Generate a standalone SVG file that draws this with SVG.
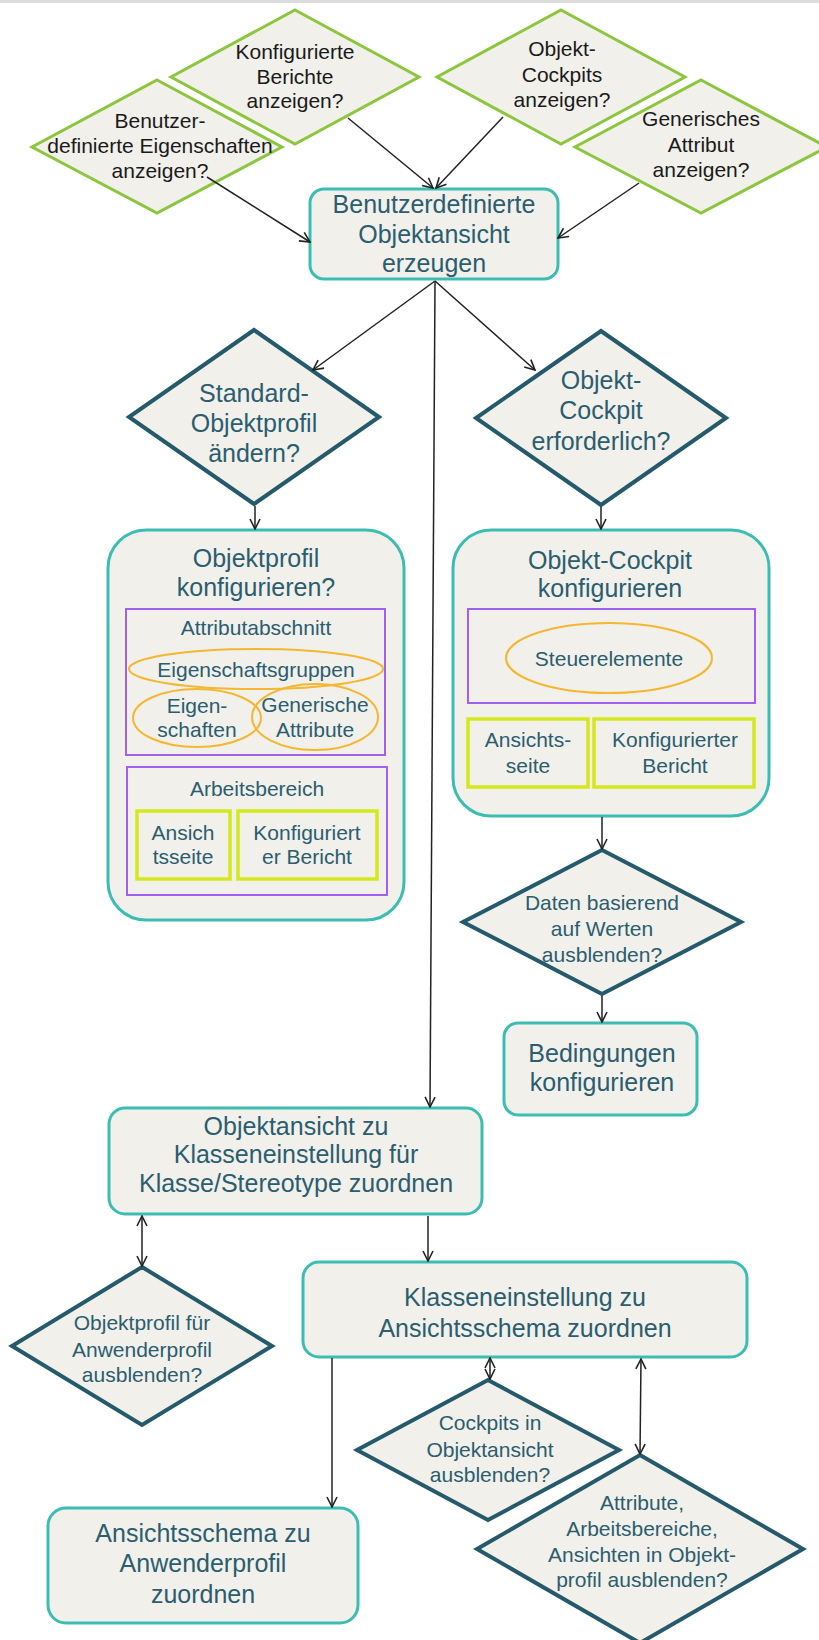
<svg xmlns="http://www.w3.org/2000/svg" width="819" height="1640" viewBox="0 0 819 1640">
<defs>
<marker id="ah" viewBox="0 0 12 12" refX="11" refY="6" markerWidth="12" markerHeight="12" markerUnits="userSpaceOnUse" orient="auto-start-reverse">
<path d="M1,1 L11,6 L1,11" fill="none" stroke="#222" stroke-width="1.6"/>
</marker>
<style>
.bg{fill:#ffffff}
.gd{fill:#f1f0ea;stroke:#8cc63f;stroke-width:3}
.dd{fill:#f1f0ea;stroke:#245a6b;stroke-width:4;stroke-linejoin:miter}
.bx{fill:#f1f0ea;stroke:#3cbdb3;stroke-width:3}
.pr{fill:none;stroke:#a060f0;stroke-width:2}
.yr{fill:none;stroke:#d4e81c;stroke-width:3.5}
.oe{fill:none;stroke:#f5b731;stroke-width:2}
.tb{font-family:"Liberation Sans",Arial,sans-serif;font-size:21px;fill:#1a1a1a;text-anchor:middle}
.tl{font-family:"Liberation Sans",Arial,sans-serif;font-size:25px;fill:#2b5d70;text-anchor:middle}
.ts{font-family:"Liberation Sans",Arial,sans-serif;font-size:21px;fill:#2b5d70;text-anchor:middle}
.cn{fill:none;stroke:#222;stroke-width:1.5}
</style>
</defs>
<rect class="bg" x="0" y="0" width="819" height="1640"/>
<rect x="0" y="0" width="819" height="3" fill="#dcdcdc"/>

<g id="n-konf-berichte">
<polygon class="gd" points="295,10 419,77 295,144 171,77"/>
<text class="tb" x="295" y="59">Konfigurierte</text>
<text class="tb" x="295" y="84">Berichte</text>
<text class="tb" x="295" y="108">anzeigen?</text>
</g>
<g id="n-benutzer-eig">
<polygon class="gd" points="157,80 282,147 157,213 32,147"/>
<text class="tb" x="160" y="128">Benutzer-</text>
<text class="tb" x="160" y="153">definierte Eigenschaften</text>
<text class="tb" x="160" y="178">anzeigen?</text>
</g>
<g id="n-objekt-cockpits">
<polygon class="gd" points="561,10 685,77 561,144 437,77"/>
<text class="tb" x="562" y="56">Objekt-</text>
<text class="tb" x="562" y="82">Cockpits</text>
<text class="tb" x="562" y="107">anzeigen?</text>
</g>
<g id="n-generisches">
<polygon class="gd" points="701,80 827,147 701,213 575,147"/>
<text class="tb" x="701" y="126">Generisches</text>
<text class="tb" x="701" y="152">Attribut</text>
<text class="tb" x="701" y="177">anzeigen?</text>
</g>

<g id="n-objektansicht-erzeugen">
<rect class="bx" x="310" y="189" width="248" height="90" rx="14"/>
<text class="tl" x="434" y="213">Benutzerdefinierte</text>
<text class="tl" x="434" y="243">Objektansicht</text>
<text class="tl" x="434" y="272">erzeugen</text>
</g>

<g id="n-standard">
<polygon class="dd" points="254,330 379,417 254,504 129,417"/>
<text class="tl" x="254" y="402">Standard-</text>
<text class="tl" x="254" y="432">Objektprofil</text>
<text class="tl" x="254" y="462">ändern?</text>
</g>
<g id="n-cockpit-erf">
<polygon class="dd" points="601,331 726,418 601,505 476,418"/>
<text class="tl" x="601" y="389">Objekt-</text>
<text class="tl" x="601" y="419">Cockpit</text>
<text class="tl" x="601" y="450">erforderlich?</text>
</g>

<g id="n-objektprofil-konf">
<rect class="bx" x="108" y="530" width="296" height="390" rx="38"/>
<text class="tl" x="256" y="567">Objektprofil</text>
<text class="tl" x="256" y="596">konfigurieren?</text>
<rect class="pr" x="126" y="609" width="259" height="146"/>
<text class="ts" x="256" y="635">Attributabschnitt</text>
<ellipse class="oe" cx="256" cy="669" rx="127" ry="20"/>
<text class="ts" x="256" y="677">Eigenschaftsgruppen</text>
<ellipse class="oe" cx="197" cy="718" rx="64" ry="29"/>
<text class="ts" x="197" y="713">Eigen-</text>
<text class="ts" x="197" y="737">schaften</text>
<ellipse class="oe" cx="315" cy="717" rx="63" ry="33"/>
<text class="ts" x="315" y="712">Generische</text>
<text class="ts" x="315" y="737">Attribute</text>
<rect class="pr" x="127" y="767" width="260" height="128"/>
<text class="ts" x="257" y="796">Arbeitsbereich</text>
<rect class="yr" x="137" y="811" width="93" height="68"/>
<text class="ts" x="183" y="840">Ansich</text>
<text class="ts" x="183" y="864">tsseite</text>
<rect class="yr" x="238" y="811" width="139" height="68"/>
<text class="ts" x="307" y="840">Konfiguriert</text>
<text class="ts" x="307" y="864">er Bericht</text>
</g>

<g id="n-cockpit-konf">
<rect class="bx" x="453" y="530" width="316" height="286" rx="38"/>
<text class="tl" x="610" y="569">Objekt-Cockpit</text>
<text class="tl" x="610" y="597">konfigurieren</text>
<rect class="pr" x="468" y="609" width="287" height="94"/>
<ellipse class="oe" cx="609" cy="658" rx="103" ry="35"/>
<text class="ts" x="609" y="666">Steuerelemente</text>
<rect class="yr" x="468" y="719" width="120" height="68"/>
<text class="ts" x="528" y="747">Ansichts-</text>
<text class="ts" x="528" y="773">seite</text>
<rect class="yr" x="594" y="719" width="160" height="68"/>
<text class="ts" x="675" y="747">Konfigurierter</text>
<text class="ts" x="675" y="773">Bericht</text>
</g>

<g id="n-daten">
<polygon class="dd" points="602,850 741,922 602,994 463,922"/>
<text class="ts" x="602" y="910">Daten basierend</text>
<text class="ts" x="602" y="936">auf Werten</text>
<text class="ts" x="602" y="962">ausblenden?</text>
</g>
<g id="n-bedingungen">
<rect class="bx" x="504" y="1023" width="193" height="92" rx="14"/>
<text class="tl" x="602" y="1062">Bedingungen</text>
<text class="tl" x="602" y="1091">konfigurieren</text>
</g>

<g id="n-objektansicht-zuordnen">
<rect class="bx" x="109" y="1108" width="373" height="106" rx="16"/>
<text class="tl" x="296" y="1135">Objektansicht zu</text>
<text class="tl" x="296" y="1163">Klasseneinstellung für</text>
<text class="tl" x="296" y="1192">Klasse/Stereotype zuordnen</text>
</g>
<g id="n-objektprofil-ausbl">
<polygon class="dd" points="142,1267 272,1346 142,1425 12,1346"/>
<text class="ts" x="142" y="1330">Objektprofil für</text>
<text class="ts" x="142" y="1357">Anwenderprofil</text>
<text class="ts" x="142" y="1382">ausblenden?</text>
</g>
<g id="n-klassen-schema">
<rect class="bx" x="303" y="1262" width="444" height="95" rx="16"/>
<text class="tl" x="525" y="1306">Klasseneinstellung zu</text>
<text class="tl" x="525" y="1337">Ansichtsschema zuordnen</text>
</g>
<g id="n-cockpits-ausbl">
<polygon class="dd" points="488,1380 619,1450 488,1520 357,1450"/>
<text class="ts" x="490" y="1430">Cockpits in</text>
<text class="ts" x="490" y="1457">Objektansicht</text>
<text class="ts" x="490" y="1482">ausblenden?</text>
</g>
<g id="n-attribute-ausbl">
<polygon class="dd" points="640,1455 803,1549 640,1643 477,1549"/>
<text class="ts" x="642" y="1510">Attribute,</text>
<text class="ts" x="642" y="1536">Arbeitsbereiche,</text>
<text class="ts" x="642" y="1562">Ansichten in Objekt-</text>
<text class="ts" x="642" y="1587">profil ausblenden?</text>
</g>
<g id="n-schema-anwender">
<rect class="bx" x="48" y="1508" width="310" height="115" rx="18"/>
<text class="tl" x="203" y="1542">Ansichtsschema zu</text>
<text class="tl" x="203" y="1572">Anwenderprofil</text>
<text class="tl" x="203" y="1603">zuordnen</text>
</g>

<g id="connectors">
<line class="cn" x1="348" y1="118" x2="433" y2="188" marker-end="url(#ah)"/>
<line class="cn" x1="503" y1="117" x2="436" y2="188" marker-end="url(#ah)"/>
<line class="cn" x1="207" y1="177" x2="310" y2="242" marker-end="url(#ah)"/>
<line class="cn" x1="639" y1="183" x2="558" y2="238" marker-end="url(#ah)"/>
<line class="cn" x1="435" y1="281" x2="313" y2="370" marker-end="url(#ah)"/>
<line class="cn" x1="435" y1="281" x2="535" y2="370" marker-end="url(#ah)"/>
<line class="cn" x1="435" y1="281" x2="430" y2="1107" marker-end="url(#ah)"/>
<line class="cn" x1="255" y1="506" x2="255" y2="529" marker-end="url(#ah)"/>
<line class="cn" x1="601" y1="507" x2="601" y2="529" marker-end="url(#ah)"/>
<line class="cn" x1="602" y1="817" x2="602" y2="849" marker-end="url(#ah)"/>
<line class="cn" x1="602" y1="996" x2="602" y2="1022" marker-end="url(#ah)"/>
<line class="cn" x1="428" y1="1216" x2="428" y2="1261" marker-end="url(#ah)"/>
<line class="cn" x1="142" y1="1216" x2="142" y2="1266" marker-start="url(#ah)" marker-end="url(#ah)"/>
<line class="cn" x1="332" y1="1358" x2="332" y2="1507" marker-end="url(#ah)"/>
<line class="cn" x1="490" y1="1358" x2="490" y2="1379" marker-start="url(#ah)" marker-end="url(#ah)"/>
<line class="cn" x1="641" y1="1359" x2="640" y2="1454" marker-start="url(#ah)" marker-end="url(#ah)"/>
</g>
</svg>
